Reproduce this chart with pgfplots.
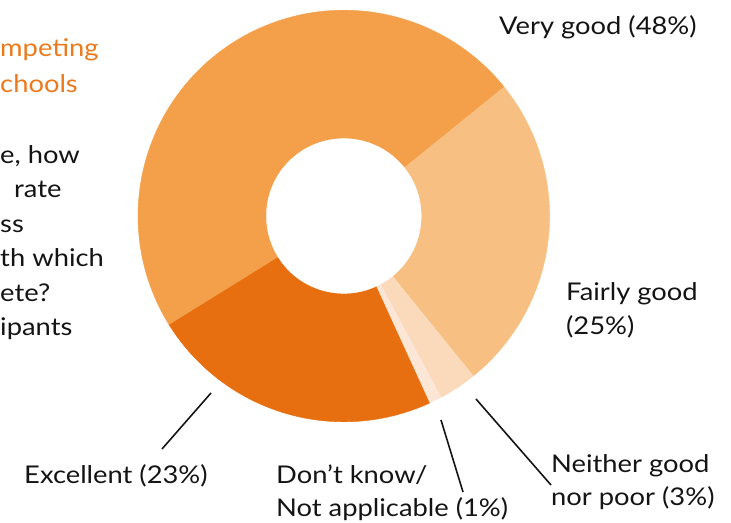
\documentclass[border=0pt]{standalone}
\usepackage{pgfplots}
\usepackage{pgfplotstable}
\pgfplotsset{compat=1.18}
\usepackage{fontspec}
\setmainfont{Lato}[FakeStretch=1.12]
\definecolor{cVG}{HTML}{F4A04A}
\definecolor{cFair}{HTML}{F7BF81}
\definecolor{cNeither}{HTML}{FADABA}
\definecolor{cDK}{HTML}{FCE7D7}
\definecolor{cExc}{HTML}{E86F10}
\definecolor{cTitle}{HTML}{EC7A1C}
\definecolor{cTxt}{HTML}{141414}

\pgfplotstableread{
label value
FairlyGood 25
Neither 3
DontKnow 1
Excellent 23
VeryGood 48
}\donutdata

\pgfplotstablegetelem{0}{value}\of\donutdata \let\vA\pgfplotsretval
\pgfplotstablegetelem{1}{value}\of\donutdata \let\vB\pgfplotsretval
\pgfplotstablegetelem{2}{value}\of\donutdata \let\vC\pgfplotsretval
\pgfplotstablegetelem{3}{value}\of\donutdata \let\vD\pgfplotsretval
\pgfplotstablegetelem{4}{value}\of\donutdata \let\vE\pgfplotsretval
\pgfmathsetmacro\aA{39}
\pgfmathsetmacro\aB{\aA-3.6*\vA}
\pgfmathsetmacro\aC{\aB-3.6*\vB}
\pgfmathsetmacro\aD{\aC-3.6*\vC}
\pgfmathsetmacro\aE{\aD-3.6*\vD}
\pgfmathsetmacro\aF{\aE-3.6*\vE}

\begin{document}
\begin{tikzpicture}
\useasboundingbox (0,0) rectangle (731bp,523bp);
\clip (0,0) rectangle (731bp,523bp);
\begin{axis}[
  scale only axis, width=411.6bp, height=411.6bp,
  xmin=-1, xmax=1, ymin=-1, ymax=1,
  hide axis, clip=false,
  at={(343.8bp,307bp)}, anchor=center,
]
\addplot[fill=cFair, draw=cFair, line width=0.4pt, domain=\aB:\aA, samples=80] ({cos(x)},{sin(x)}) -- (axis cs:0,0) -- cycle;
\addplot[fill=cNeither, draw=cNeither, line width=0.4pt, domain=\aC:\aB, samples=20] ({cos(x)},{sin(x)}) -- (axis cs:0,0) -- cycle;
\addplot[fill=cDK, draw=cDK, line width=0.4pt, domain=\aD:\aC, samples=10] ({cos(x)},{sin(x)}) -- (axis cs:0,0) -- cycle;
\addplot[fill=cExc, draw=cExc, line width=0.4pt, domain=\aE:\aD, samples=80] ({cos(x)},{sin(x)}) -- (axis cs:0,0) -- cycle;
\addplot[fill=cVG, draw=cVG, line width=0.4pt, domain=\aF:\aE, samples=150] ({cos(x)},{sin(x)}) -- (axis cs:0,0) -- cycle;
\addplot[fill=white, draw=white, line width=0.4pt, domain=0:360, samples=120] ({0.376*cos(x)},{0.376*sin(x)}) -- cycle;
\end{axis}

\begin{scope}[x=1bp,y=1bp]
% leader lines
\draw[line width=1.6pt, cTxt] (211,{523-393}) -- (162,{523-449});
\draw[line width=1.6pt, cTxt] (441,{523-420}) -- (463,{523-492});
\draw[line width=1.6pt, cTxt] (476,{523-399}) -- (551,{523-485});

% labels
\begin{scope}[every node/.style={inner sep=0pt, font=\fontsize{24.5}{29}\selectfont, text=cTxt}]
\node[anchor=base west] at (499,{523-35}) {Very good (48\%)};
\node[anchor=base west] at (566,{523-300}) {Fairly good};
\node[anchor=base west] at (566,{523-334}) {(25\%)};
\node[anchor=base west] at (551,{523-472}) {Neither good};
\node[anchor=base west] at (551,{523-505}) {nor poor (3\%)};
\node[anchor=base west] at (276,{523-483}) {Don’t know/};
\node[anchor=base west] at (276,{523-516}) {Not applicable (1\%)};
\node[anchor=base west] at (24,{523-483}) {Excellent (23\%)};
% left text fragments (the reference shows them cut by its left edge)
\node[anchor=base west, text=cTitle] at (0,{523-57}) {mpeting};
\node[anchor=base west, text=cTitle] at (0,{523-93}) {chools};
\node[anchor=base west] at (0,{523-163}) {e, how};
\node[anchor=base west] at (14,{523-197.5}) {rate};
\node[anchor=base west] at (0,{523-232}) {ss};
\node[anchor=base west] at (0,{523-266.5}) {th which};
\node[anchor=base west] at (0,{523-301}) {ete?};
\node[anchor=base west] at (0,{523-335.5}) {ipants};
\end{scope}
\end{scope}
\end{tikzpicture}
\end{document}
